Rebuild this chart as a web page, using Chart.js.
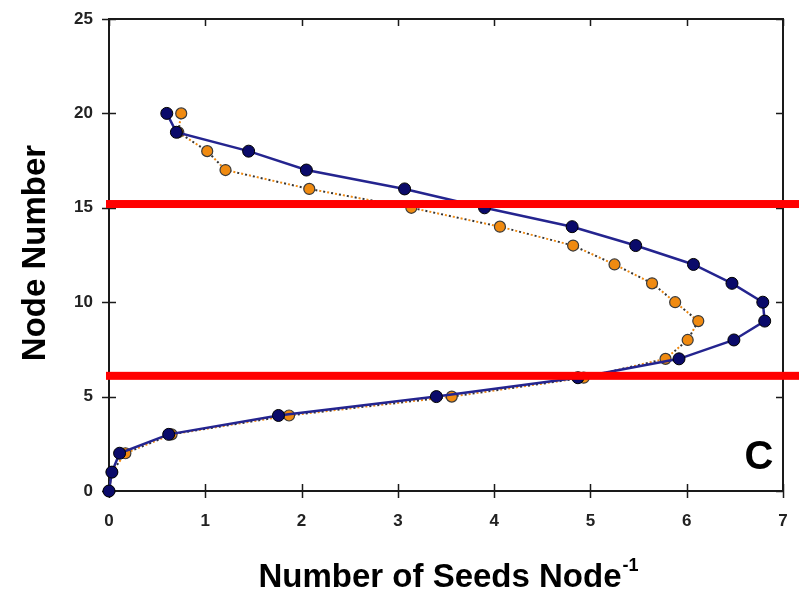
<!DOCTYPE html>
<html>
<head>
<meta charset="utf-8">
<script src="https://cdn.jsdelivr.net/npm/chart.js@4"></script>
<style>
  html, body { margin: 0; padding: 0; background: #fff; }
  #wrap { width: 799px; height: 592px; }
</style>
</head>
<body>
<div id="wrap"><canvas id="seed-chart" width="799" height="592"></canvas></div>
<script>
// node numbers (y) and seeds per node (x) for the two treatments
const nodes = [0, 1, 2, 3, 4, 5, 6, 7, 8, 9, 10, 11, 12, 13, 14, 15, 16, 17, 18, 19, 20];
const seedsBlue = [0, 0.03, 0.11, 0.62, 1.76, 3.40, 4.87, 5.92, 6.49, 6.81, 6.79, 6.47, 6.07, 5.47, 4.81, 3.90, 3.07, 2.05, 1.45, 0.70, 0.60];
const seedsOrange = [0, 0.03, 0.17, 0.65, 1.87, 3.56, 4.93, 5.78, 6.01, 6.12, 5.88, 5.64, 5.25, 4.82, 4.06, 3.14, 2.08, 1.21, 1.02, 0.72, 0.75];
const redLines = [15.2, 6.1];
const xTicks = [0, 1, 2, 3, 4, 5, 6, 7];
const yTicks = [0, 5, 10, 15, 20, 25];

const toPts = xs => xs.map((x, i) => ({ x: x, y: nodes[i] }));
const titleFont = 'bold 33px "Liberation Sans", Arial, sans-serif';

const frame = {
    id: 'frame',
    beforeDatasetsDraw(chart) {
        const { ctx, chartArea: a, scales: { x, y } } = chart;
        ctx.save();
        ctx.strokeStyle = '#1a1a1a';
        ctx.lineWidth = 2;
        ctx.strokeRect(a.left, a.top, a.right - a.left, a.bottom - a.top);
        ctx.lineWidth = 1.5;
        ctx.beginPath();
        yTicks.forEach(v => {
            const py = Math.round(y.getPixelForValue(v)) + 0.5;
            ctx.moveTo(a.left - 7, py); ctx.lineTo(a.left + 7, py);
            ctx.moveTo(a.right - 7, py); ctx.lineTo(a.right, py);
        });
        xTicks.forEach(v => {
            const px = Math.round(x.getPixelForValue(v)) + 0.5;
            ctx.moveTo(px, a.bottom - 7); ctx.lineTo(px, a.bottom + 7);
            ctx.moveTo(px, a.top); ctx.lineTo(px, a.top + 7);
        });
        ctx.stroke();
        ctx.restore();
    },
    afterDatasetsDraw(chart) {
        const { ctx, chartArea: a, scales: { y } } = chart;
        ctx.save();
        ctx.fillStyle = '#ff0000';
        redLines.forEach(v => {
            const py = y.getPixelForValue(v);
            ctx.fillRect(a.left - 3, py - 4, chart.width - a.left + 3, 8);
        });
        // panel letter
        ctx.fillStyle = '#000';
        ctx.font = 'bold 40px "Liberation Sans", Arial, sans-serif';
        ctx.textAlign = 'center';
        ctx.textBaseline = 'middle';
        ctx.fillText('C', 759, 458);
        // y title
        ctx.textBaseline = 'alphabetic';
        ctx.save();
        ctx.translate(45, 253);
        ctx.rotate(-Math.PI / 2);
        ctx.font = titleFont;
        ctx.fillText('Node Number', 0, 0);
        ctx.restore();
        // x title with superscript
        ctx.textAlign = 'left';
        const main = 'Number of Seeds Node';
        ctx.font = titleFont;
        const w1 = ctx.measureText(main).width;
        ctx.font = 'bold 18px "Liberation Sans", Arial, sans-serif';
        const w2 = ctx.measureText('-1').width;
        const x0 = 448 - (w1 + w2) / 2;
        ctx.font = titleFont;
        ctx.fillText(main, x0, 587);
        ctx.font = 'bold 18px "Liberation Sans", Arial, sans-serif';
        ctx.fillText('-1', x0 + w1 + 1, 571);
        ctx.restore();
    }
};

const tickFont = { family: '"Liberation Sans", Arial, sans-serif', size: 17, weight: 'bold' };

new Chart(document.getElementById('seed-chart').getContext('2d'), {
    type: 'scatter',
    data: {
        datasets: [{
            data: toPts(seedsBlue),
            showLine: true,
            borderColor: '#24248f',
            borderWidth: 2.5,
            pointRadius: 6,
            pointBackgroundColor: '#0a0a6a',
            pointBorderColor: '#000',
            pointBorderWidth: 1,
            clip: false
        }, {
            data: toPts(seedsOrange),
            showLine: false,
            pointRadius: 5.5,
            pointBackgroundColor: '#f08a10',
            pointBorderColor: '#3a3a3a',
            pointBorderWidth: 1.2,
            clip: false
        }, {
            data: toPts(seedsOrange),
            showLine: true,
            borderColor: '#f08a10',
            borderWidth: 2,
            borderDash: [2, 6],
            pointRadius: 0,
            clip: false
        }, {
            data: toPts(seedsOrange),
            showLine: true,
            borderColor: '#333',
            borderWidth: 2,
            borderDash: [2, 6],
            borderDashOffset: 4,
            pointRadius: 0,
            clip: false
        }]
    },
    options: {
        responsive: false,
        animation: false,
        layout: { padding: { top: 19, right: 16, left: 0, bottom: 0 } },
        plugins: { legend: { display: false }, tooltip: { enabled: false } },
        scales: {
            x: {
                type: 'linear', min: 0, max: 7,
                grid: { display: false, drawTicks: false },
                border: { display: false },
                ticks: { stepSize: 1, padding: 20, color: '#222', font: tickFont },
                afterFit: s => { s.height = 101; s.paddingLeft = 0; s.paddingRight = 0; }
            },
            y: {
                type: 'linear', min: 0, max: 25,
                grid: { display: false, drawTicks: false },
                border: { display: false },
                ticks: { stepSize: 5, padding: 16, color: '#222', font: tickFont },
                afterFit: s => { s.width = 109; s.paddingTop = 0; s.paddingBottom = 0; }
            }
        }
    },
    plugins: [frame]
});
</script>
</body>
</html>
